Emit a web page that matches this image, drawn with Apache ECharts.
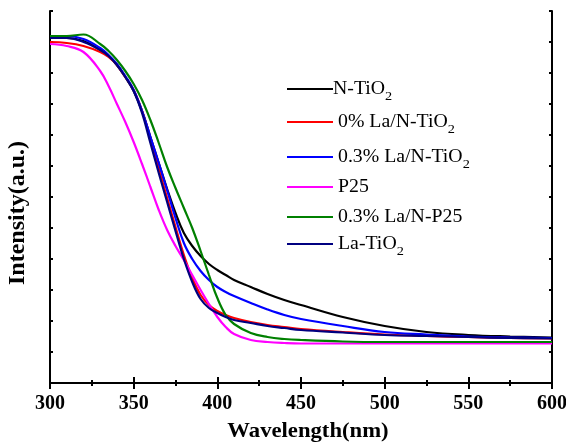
<!DOCTYPE html>
<html><head><meta charset="utf-8">
<script src="https://cdn.jsdelivr.net/npm/echarts@6/dist/echarts.min.js"></script>
<style>html,body{margin:0;padding:0;background:#fff}#c{width:566px;height:445px}</style>
</head><body><div id="c"></div>
<script>
const wavelength = [300,310,320,330,335,340,345,350,355,360,365,370,375,380,385,390,395,400,405,410,420,430,440,450,475,500,525,550,575,600];
const nTiO2      = [345,345,342,333,327,318,306,292,272,246,220,194,170,150,137,127,119,113,108,103,96,89,83,78,66,57,51,48,46.5,45.5];
const la0NTiO2   = [341,340,337,331,326,318,306,293,272,244,214,185,156,128,105,88,78,72,68,65,61,58,56,54,51,48.5,47,46,45,44.5];
const la03NTiO2  = [347,347,344,335,328,319,307,293,272,246,220,193,165,140,124,112,103,96,91,87,80,73.5,68,64,57,51,48.5,46.5,45.5,45];
const p25        = [339,337,331,312,297,279,261,241,219,196,173,153,137,123,108,93,79,66,56,49,43,41,40,39.5,39.5,39.5,39.5,39.5,39.5,39.5];
const la03NP25   = [347,347,348.5,339,332,323,312,299,283,263,240,216,195,175,155,132,108,85,68,59,50,46,44,43,41.5,41,41,41,41,41];
const laTiO2     = [345,345,341,333,327,318,306,292,270,240,210,181,152,124,101,84,75,70,66,63,60,57,55,53,50.5,48,47,46,45,44.5];
const xTicks = [300,350,400,450,500,550,600];

const seriesDefs = [
  {name:'N-TiO', sub:'2', data:nTiO2, color:'#000000'},
  {name:'0% La/N-TiO', sub:'2', data:la0NTiO2, color:'#ff0000'},
  {name:'0.3% La/N-TiO', sub:'2', data:la03NTiO2, color:'#0000ff'},
  {name:'P25', sub:'', data:p25, color:'#ff00ff'},
  {name:'0.3% La/N-P25', sub:'', data:la03NP25, color:'#008000'},
  {name:'La-TiO', sub:'2', data:laTiO2, color:'#000080'}
];
const legendY = [89,122,157,187,217,244];

const chart = echarts.init(document.getElementById('c'));
const axisLine = {show:true, lineStyle:{color:'#000', width:2}};
const font = 'Liberation Serif, Times New Roman, serif';
const xBase = {type:'value', min:300, max:600, interval:50, splitLine:{show:false},
  axisLine: axisLine, axisTick:{inside:true, length:6, lineStyle:{width:2,color:'#000'}},
  minorTick:{show:true, splitNumber:2, length:3, lineStyle:{width:2,color:'#000'}}};
const yBase = {type:'value', min:0, max:372, interval:31, splitLine:{show:false},
  axisLine: axisLine, axisTick:{inside:true, length:3, lineStyle:{width:2,color:'#000'}},
  axisLabel:{show:false}};

const graphics = [];
seriesDefs.forEach((s,i)=>{
  const y = legendY[i];
  graphics.push({type:'line', shape:{x1:287,y1:y,x2:333,y2:y}, style:{stroke:s.color, lineWidth:2}, z:100});
  graphics.push({type:'text', x: i===0?333:338, y: y, z:100, scaleX:1.1, originX:0,
    style:{text: '{m|'+s.name+'}' + (s.sub?'{s|'+s.sub+'}':''), verticalAlign:'middle',
      rich:{m:{fontFamily:font, fontSize:18, color:'#000', lineHeight:20},
            s:{fontFamily:font, fontSize:13, color:'#000', lineHeight:20, padding:[16,0,0,0]}}}});
});
graphics.push({type:'text', x:308, y:432, scaleX:1.08, originX:0, style:{text:'Wavelength(nm)', fontFamily:font, fontWeight:'bold', fontSize:21, fill:'#000', align:'center', verticalAlign:'middle'}});
graphics.push({type:'text', x:18, y:213, rotation:Math.PI/2, style:{text:'Intensity(a.u.)', fontFamily:font, fontWeight:'bold', fontSize:24, fill:'#000', align:'center', verticalAlign:'middle'}});

chart.setOption({
  animation:false,
  grid:{left:50, right:14, top:11, bottom:62, containLabel:false, outerBoundsMode:'none'},
  xAxis:[
    Object.assign({}, xBase, {position:'bottom', axisLabel:{show:true, margin:11, fontFamily:font, fontWeight:'bold', fontSize:20, color:'#000',
      customValues: xTicks}}),
    Object.assign({}, xBase, {position:'top', axisLabel:{show:false}})
  ],
  yAxis:[
    Object.assign({}, yBase, {position:'left'}),
    Object.assign({}, yBase, {position:'right'})
  ],
  series: seriesDefs.map(s=>({
    type:'line', name:s.name, data: wavelength.map((w,i)=>[w, s.data[i]]),
    showSymbol:false, smooth:0.4,
    lineStyle:{color:s.color, width:2.2}, itemStyle:{color:s.color}
  })),
  graphic: graphics
});
</script></body></html>
